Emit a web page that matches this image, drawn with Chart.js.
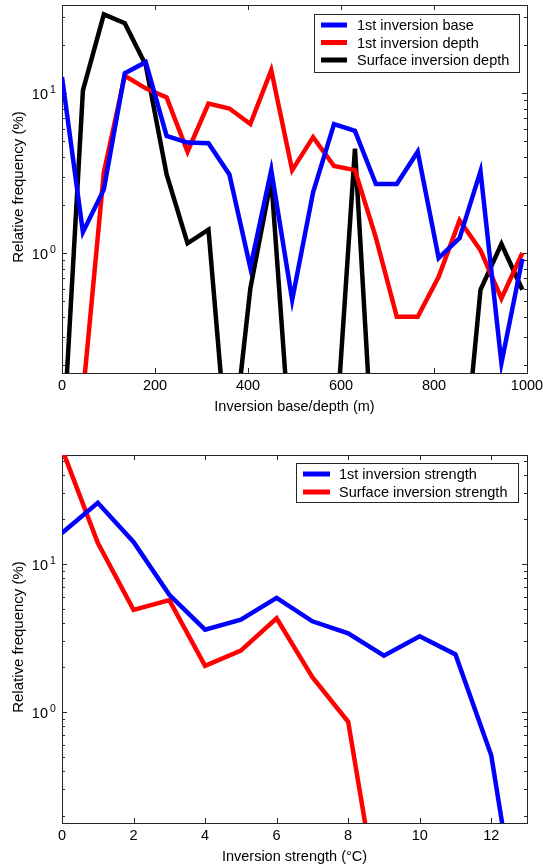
<!DOCTYPE html>
<html>
<head>
<meta charset="utf-8">
<script src="https://cdn.jsdelivr.net/npm/chart.js@4/dist/chart.umd.min.js"></script>
<style>
  html, body { margin: 0; padding: 0; background: #fff; }
  #wrap { position: relative; width: 543px; height: 867px; }
  canvas { position: absolute; left: 0; }
</style>
</head>
<body>
<div id="wrap">
  <canvas id="depthChart" width="543" height="430" style="top:0px"></canvas>
  <canvas id="strengthChart" width="543" height="437" style="top:430px"></canvas>
</div>
<script>
// ---- Inversion base / depth histogram (45 m bins) ----
const depthBins = [0, 45, 90, 135, 180, 225, 270, 315, 360, 405, 450, 495, 540, 585, 630, 675, 720, 765, 810, 855, 900, 945, 990];
const baseFreq = [12.6, 1.35, 2.5, 13.3, 15.6, 5.4, 4.9, 4.85, 3.1, 0.81, 3.3, 0.51, 2.4, 6.4, 5.8, 2.7, 2.7, 4.3, 0.93, 1.24, 3.25, 0.205, 0.92];
const depthFreq = [null, 0.13, 3.2, 12.8, 10.7, 9.4, 4.3, 8.6, 8.0, 6.4, 13.9, 3.3, 5.3, 3.5, 3.3, 1.25, 0.40, 0.40, 0.71, 1.6, 1.04, 0.52, 1.0];
const surfDepthFreq = [0.05, 10.4, 31, 27.3, 15, 3.1, 1.15, 1.4, 0.04, 0.6, 2.9, 0.044, null, 0.049, 4.5, 0.025, null, null, null, 0.025, 0.59, 1.14, 0.59];
const depthTicks = [0, 200, 400, 600, 800, 1000];

// ---- Inversion strength histogram (1 degree bins) ----
const strengthBins = [0, 1, 2, 3, 4, 5, 6, 7, 8, 9, 10, 11, 12, 13];
const strengthFreq = [16.2, 25.9, 14.1, 6.2, 3.6, 4.2, 5.9, 4.1, 3.4, 2.4, 3.25, 2.45, 0.51, 0.016];
const surfStrengthFreq = [60, 13.9, 4.9, 5.7, 2.05, 2.6, 4.3, 1.72, 0.86, 0.031, null, null, null, null];
const strengthTicks = [0, 2, 4, 6, 8, 10, 12];

const freqExponents = [-1, 0, 1];

const FONT = '"Liberation Sans", Arial, Helvetica, sans-serif';
const LABEL_FONT = '14.5px ' + FONT;
const AXIS_COLOR = '#262626';

function points(xs, ys) {
  return xs.map((x, i) => ({ x: x, y: ys[i] }));
}

// Axes in the style of a boxed plot: inward ticks on all four sides,
// log minor ticks on the y axis, power-of-ten labels, inline legend.
const boxedAxes = {
  id: 'boxedAxes',
  beforeDatasetsDraw(chart, args, opts) {
    const { ctx, chartArea: a, scales } = chart;
    const x = scales.x, y = scales.y;
    ctx.save();
    ctx.strokeStyle = AXIS_COLOR;
    ctx.lineWidth = 1;
    ctx.strokeRect(Math.round(a.left) + 0.5, Math.round(a.top) + 0.5,
                   Math.round(a.right - a.left), Math.round(a.bottom - a.top));
    ctx.beginPath();
    opts.xTicks.forEach(v => {
      const px = Math.round(x.getPixelForValue(v)) + 0.5;
      ctx.moveTo(px, a.bottom); ctx.lineTo(px, a.bottom - 5);
      ctx.moveTo(px, a.top); ctx.lineTo(px, a.top + 5);
    });
    const lo = Math.floor(Math.log10(y.min)), hi = Math.ceil(Math.log10(y.max));
    for (let e = lo; e <= hi; e++) {
      for (let m = 1; m <= 9; m++) {
        const v = m * Math.pow(10, e);
        if (v < y.min || v > y.max) continue;
        const py = Math.round(y.getPixelForValue(v)) + 0.5;
        const len = m === 1 ? 5 : 3;
        ctx.moveTo(a.left, py); ctx.lineTo(a.left + len, py);
        ctx.moveTo(a.right, py); ctx.lineTo(a.right - len, py);
      }
    }
    ctx.stroke();
    ctx.restore();
  },
  afterDraw(chart, args, opts) {
    const { ctx, chartArea: a, scales } = chart;
    const x = scales.x, y = scales.y;
    ctx.save();
    ctx.fillStyle = '#000';

    // x tick labels
    ctx.font = LABEL_FONT;
    ctx.textAlign = 'center';
    ctx.textBaseline = 'alphabetic';
    opts.xTicks.forEach(v => {
      ctx.fillText(String(v), x.getPixelForValue(v), a.bottom + 17);
    });

    // y tick labels as 10 with superscript exponent
    freqExponents.forEach(e => {
      const v = Math.pow(10, e);
      if (v < y.min || v > y.max) return;
      const py = y.getPixelForValue(v);
      ctx.font = LABEL_FONT;
      ctx.textAlign = 'right';
      ctx.textBaseline = 'middle';
      ctx.fillText('10', a.left - 14, py + 2);
      ctx.font = '10.5px ' + FONT;
      ctx.textAlign = 'left';
      ctx.fillText(String(e), a.left - 12, py - 3);
    });

    // axis titles
    ctx.font = LABEL_FONT;
    ctx.textAlign = 'center';
    ctx.textBaseline = 'alphabetic';
    ctx.fillText(opts.xTitle, (a.left + a.right) / 2, a.bottom + 38);
    ctx.save();
    ctx.font = '15px ' + FONT;
    ctx.translate(23, (a.top + a.bottom) / 2 - 2);
    ctx.rotate(-Math.PI / 2);
    ctx.fillText(opts.yTitle, 0, 0);
    ctx.restore();

    // legend box
    const L = opts.legend;
    ctx.font = LABEL_FONT;
    const labels = chart.data.datasets.map(d => d.label);
    const maxW = Math.max(...labels.map(t => ctx.measureText(t).width));
    const right = a.right - L.rightInset;
    const left = Math.round(right - (L.textOffset + maxW + L.padRight));
    const top = a.top + L.topInset;
    const h = L.height;
    ctx.fillStyle = '#fff';
    ctx.fillRect(left, top, right - left, h);
    ctx.strokeStyle = AXIS_COLOR;
    ctx.lineWidth = 1;
    ctx.strokeRect(left + 0.5, top + 0.5, right - left, h);
    chart.data.datasets.forEach((d, i) => {
      const cy = top + L.firstRow + i * L.rowH;
      ctx.strokeStyle = d.borderColor;
      ctx.lineWidth = 5;
      ctx.beginPath();
      ctx.moveTo(left + L.sampleFrom, cy);
      ctx.lineTo(left + L.sampleTo, cy);
      ctx.stroke();
      ctx.fillStyle = '#000';
      ctx.textAlign = 'left';
      ctx.textBaseline = 'middle';
      ctx.fillText(d.label, left + L.textOffset, cy + 1);
    });
    ctx.restore();
  }
};

function lineSet(label, color, xs, ys) {
  return {
    label: label,
    data: points(xs, ys),
    borderColor: color,
    backgroundColor: color,
    borderWidth: 4.5,
    pointRadius: 0,
    tension: 0,
    fill: false,
    spanGaps: false,
    clip: 0
  };
}

function baseOptions(pad, xMax, yMin, yMax, axesOpts) {
  return {
    responsive: false,
    animation: false,
    devicePixelRatio: 1,
    layout: { padding: pad },
    events: [],
    plugins: {
      legend: { display: false },
      tooltip: { enabled: false },
      boxedAxes: axesOpts
    },
    scales: {
      x: { type: 'linear', display: false, min: 0, max: xMax },
      y: { type: 'logarithmic', display: false, min: yMin, max: yMax }
    }
  };
}

new Chart(document.getElementById('depthChart'), {
  type: 'line',
  data: {
    datasets: [
      lineSet('1st inversion base', '#0000ff', depthBins, baseFreq),
      lineSet('1st inversion depth', '#ff0000', depthBins, depthFreq),
      lineSet('Surface inversion depth', '#000000', depthBins, surfDepthFreq)
    ]
  },
  options: baseOptions({ left: 62, right: 16, top: 5, bottom: 57 }, 1000, 0.178, 35.5, {
    xTicks: depthTicks,
    xTitle: 'Inversion base/depth (m)',
    yTitle: 'Relative frequency (%)',
    legend: { rightInset: 8, topInset: 9, height: 58, rowH: 17.5, firstRow: 11,
              sampleFrom: 7, sampleTo: 33, textOffset: 43, padRight: 10 }
  }),
  plugins: [boxedAxes]
});

new Chart(document.getElementById('strengthChart'), {
  type: 'line',
  data: {
    datasets: [
      lineSet('1st inversion strength', '#0000ff', strengthBins, strengthFreq),
      lineSet('Surface inversion strength', '#ff0000', strengthBins, surfStrengthFreq)
    ]
  },
  options: baseOptions({ left: 62, right: 16, top: 25, bottom: 44 }, 13, 0.178, 54.5, {
    xTicks: strengthTicks,
    xTitle: 'Inversion strength (\u00B0C)',
    yTitle: 'Relative frequency (%)',
    legend: { rightInset: 9, topInset: 8, height: 39, rowH: 18, firstRow: 11,
              sampleFrom: 7, sampleTo: 34, textOffset: 43, padRight: 11 }
  }),
  plugins: [boxedAxes]
});
</script>
</body>
</html>
